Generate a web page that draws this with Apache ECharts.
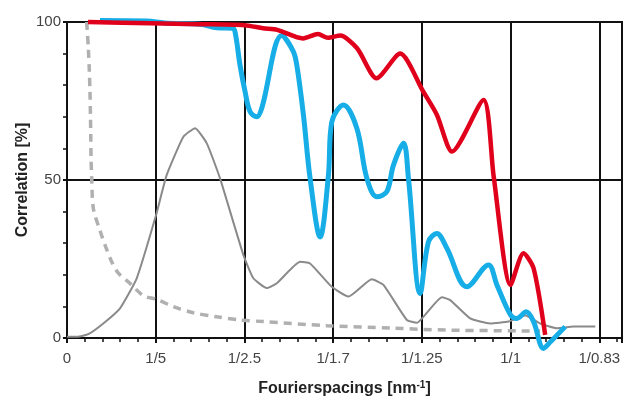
<!DOCTYPE html>
<html>
<head>
<meta charset="utf-8">
<script src="https://cdn.jsdelivr.net/npm/echarts@6/dist/echarts.min.js"></script>
<style>
  html, body { margin: 0; padding: 0; background: #fff; }
  #chart { width: 639px; height: 396px; }
</style>
</head>
<body>
<div id="chart"></div>
<script>
// tick labels at x = 0..6
const xLabels = ['0', '1/5', '1/2.5', '1/1.7', '1/1.25', '1/1', '1/0.83'];
const yTicks = [0, 50, 100];

// [x, correlation %]
const redLine = [
  [0.237, 100], [0.94, 99.6], [1.5, 99.3], [2.0, 99], [2.21, 98], [2.37, 97.5],
  [2.66, 94.8], [2.83, 96.2], [2.94, 95], [3.08, 95.7], [3.27, 91.7], [3.49, 82.2],
  [3.755, 90], [4.015, 78], [4.17, 70.6], [4.34, 59], [4.695, 75.3], [4.81, 51],
  [5.0, 16.8], [5.146, 26.8], [5.26, 22], [5.39, 1]
];
const blueLine = [
  [0.372, 100.5], [0.9, 100.3], [1.1, 99.7], [1.5, 99.3], [1.69, 98.2], [1.87, 98], [1.9, 96],
  [1.95, 86.4], [2.007, 78], [2.064, 71.6], [2.139, 70], [2.196, 72.8], [2.421, 95.7],
  [2.549, 90.8], [2.59, 86.4], [2.665, 70.6], [2.74, 50.6], [2.853, 32], [2.947, 51.6],
  [2.985, 68.4], [3.116, 73.7], [3.267, 66.4], [3.38, 50.5], [3.493, 44.7], [3.605, 46.3],
  [3.68, 54.7], [3.793, 61.6], [3.849, 50.5], [3.981, 14.1], [4.075, 30.5], [4.169, 33.1],
  [4.282, 28.4], [4.508, 16.2], [4.751, 23.1], [4.846, 16.8], [5.0, 7.3], [5.071, 6.2],
  [5.176, 8.3], [5.259, 5.2], [5.372, -3.3], [5.447, -1.3], [5.616, 3.6]
];
const graySolid = [
  [0, 0.4], [0.12, 0.4], [0.24, 1.2], [0.409, 4.6], [0.598, 9.4], [0.786, 18.9],
  [1.004, 38.9], [1.124, 51.6], [1.312, 63.7], [1.444, 66.4], [1.576, 61.6], [1.725, 50.5],
  [1.988, 26.3], [2.101, 18.9], [2.252, 15.8], [2.365, 17.3], [2.628, 24.1], [2.74, 23.6],
  [2.985, 16.2], [3.172, 13.1], [3.436, 18.6], [3.567, 16.8], [3.831, 5.7], [3.944, 4.8],
  [4.018, 6.7], [4.226, 12.9], [4.319, 12], [4.545, 6.2], [4.77, 4.6], [4.977, 5.2],
  [5.165, 7.1], [5.334, 4.6], [5.523, 3.1], [5.71, 3.6], [5.955, 3.6]
];
const grayDashed = [
  [0.222, 100], [0.24, 92], [0.251, 85], [0.259, 78], [0.264, 71], [0.268, 64],
  [0.271, 57], [0.279, 50], [0.297, 41], [0.372, 34], [0.429, 29.4], [0.504, 24.1],
  [0.579, 20.5], [0.71, 17.3], [0.861, 13.4], [1.012, 12.2], [1.199, 9.9], [1.424, 8],
  [1.688, 6.7], [1.951, 5.7], [2.214, 5.2], [2.929, 3.9], [3.68, 3.1], [4.282, 2.5],
  [5.334, 2.2]
];

const chart = echarts.init(document.getElementById('chart'));
const font = 'Liberation Sans, Arial, sans-serif';

const option = {
  animation: false,
  grid: {
    left: 67, right: 17, top: 22, bottom: 58,
    containLabel: false,
    outerBoundsMode: 'none',
    show: true, borderColor: '#111', borderWidth: 2
  },
  xAxis: {
    type: 'value',
    min: 0,
    max: 6.256,
    interval: 1,
    name: 'Fourierspacings [nm{s|-1}]',
    nameLocation: 'middle',
    nameGap: 42,
    nameTextStyle: {
      fontFamily: font, fontSize: 16, fontWeight: 'bold', color: '#222',
      rich: { s: { fontFamily: font, fontSize: 10, fontWeight: 'bold', color: '#222', verticalAlign: 'top', padding: [0, 0, 8, 0] } }
    },
    axisLine: { show: true, lineStyle: { color: '#111', width: 2 } },
    axisTick: { show: true, inside: false, length: 5, lineStyle: { color: '#111', width: 2 } },
    minorTick: { show: true, splitNumber: 5, length: 4, lineStyle: { color: '#111', width: 1.5 } },
    axisLabel: {
      margin: 13,
      fontFamily: font, fontSize: 15, color: '#444',
      formatter: v => (Number.isInteger(v) && xLabels[v] !== undefined) ? xLabels[v] : ''
    },
    splitLine: { show: true, lineStyle: { color: '#111', width: 2 } }
  },
  yAxis: {
    type: 'value',
    min: 0,
    max: 100,
    interval: 50,
    name: 'Correlation [%]',
    nameLocation: 'middle',
    nameGap: 36,
    nameMoveOverlap: false,
    nameTextStyle: { fontFamily: font, fontSize: 16, fontWeight: 'bold', color: '#222' },
    axisLine: { show: true, lineStyle: { color: '#111', width: 2 } },
    axisTick: { show: true, inside: false, length: 4, lineStyle: { color: '#111', width: 2 } },
    minorTick: { show: true, splitNumber: 5, length: 4, lineStyle: { color: '#111', width: 1.5 } },
    axisLabel: {
      margin: 6,
      fontFamily: font, fontSize: 15, color: '#444',
      formatter: v => yTicks.includes(v) ? String(v) : ''
    },
    splitLine: { show: true, lineStyle: { color: '#111', width: 2 } }
  },
  series: [
    {
      name: 'dashed', type: 'line', data: grayDashed, showSymbol: false, smooth: 0.3,
      clip: false, z: 2,
      lineStyle: { color: '#b0b0b0', width: 3.5, type: [8, 6] }
    },
    {
      name: 'gray', type: 'line', data: graySolid, showSymbol: false, smooth: 0.15,
      clip: false, z: 3,
      lineStyle: { color: '#8a8a8a', width: 2 }
    },
    {
      name: 'blue', type: 'line', data: blueLine, showSymbol: false, smooth: 0.35,
      clip: false, z: 4,
      lineStyle: { color: '#17ade6', width: 5 }
    },
    {
      name: 'red', type: 'line', data: redLine, showSymbol: false, smooth: 0.25,
      clip: false, z: 5,
      lineStyle: { color: '#e0001b', width: 4.5 }
    }
  ]
};

chart.setOption(option);
</script>
</body>
</html>
